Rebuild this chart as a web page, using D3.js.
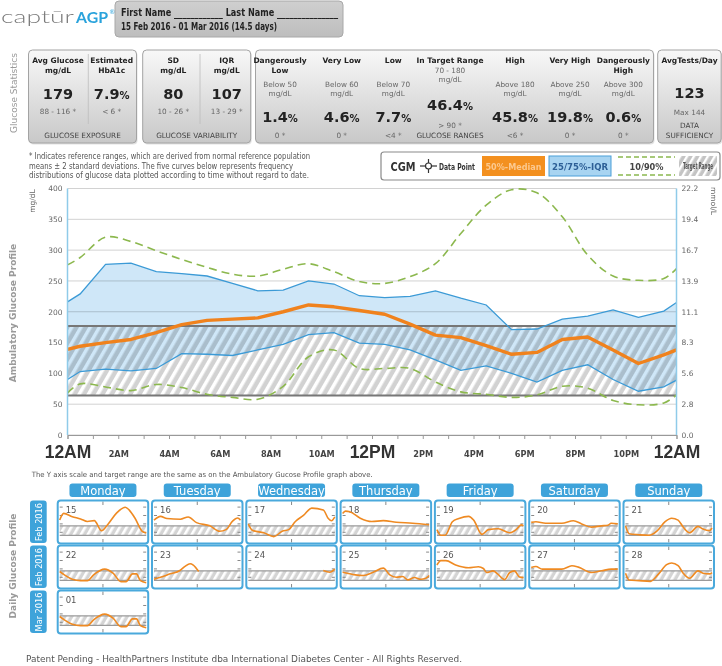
<!DOCTYPE html>
<html><head><meta charset="utf-8">
<script src="https://cdn.jsdelivr.net/npm/d3@7"></script>
<style>
body{margin:0;background:#fff;}
svg{display:block;font-family:"DejaVu Sans",sans-serif;}
</style></head><body>
<svg id="c" width="722" height="666"></svg>
<script>
// ---------------- DATA ----------------
const hours = [0,0.5,1.5,2.5,3.5,4.5,5.5,6.5,7.5,8.5,9.5,10.5,11.5,12.5,13.5,14.5,15.5,16.5,17.5,18.5,19.5,20.5,21.5,22.5,23.5,24];
const p90 = [276,288,321,314,299,285,272,261,258,269,278,265,249,246,257,278,327,373,398,393,354,292,258,251,254,270];
const p75 = [216,229,277,279,265,262,258,246,234,235,250,245,226,223,225,234,222,211,171,172,188,193,203,191,201,215];
const p50 = [139,144,150,155,166,179,186,188,190,200,211,208,202,196,180,162,158,145,131,134,155,159,138,116,130,138];
const p25 = [90,103,107,104,108,132,131,129,138,147,163,166,149,147,138,122,105,112,100,86,105,114,90,71,78,89];
const p10 = [68,83,78,72,82,77,66,61,58,79,127,138,108,108,108,86,70,66,61,65,79,76,56,49,52,65];
const targetRange = [64,177];
const yTicks = [0,50,100,150,200,250,300,350,400];
const mmolLabels = ["0.0","2.8","5.6","8.3","11.1","13.9","16.7","19.4","22.2"];
const hourLabels = ["12AM","","2AM","","4AM","","6AM","","8AM","","10AM","","12PM","","2PM","","4PM","","6PM","","8PM","","10PM","","12AM"];

const exposureHeads = [["Avg Glucose","mg/dL"],["Estimated","HbA1c"]];
const exposureValues = ["179","7.9"];
const exposureUnits = ["","%"];
const exposureRefs = ["88 - 116 *","< 6 *"];
const variabilityHeads = [["SD","mg/dL"],["IQR","mg/dL"]];
const variabilityValues = ["80","107"];
const variabilityRefs = ["10 - 26 *","13 - 29 *"];
const rangeHeads = [["Dangerously","Low"],["Very Low"],["Low"],["In Target Range"],["High"],["Very High"],["Dangerously","High"]];
const rangeLimits = [["Below 50","mg/dL"],["Below 60","mg/dL"],["Below 70","mg/dL"],["70 - 180","mg/dL"],["Above 180","mg/dL"],["Above 250","mg/dL"],["Above 300","mg/dL"]];
const rangeValues = ["1.4","4.6","7.7","46.4","45.8","19.8","0.6"];
const rangeRefs = ["0 *","0 *","<4 *","> 90 *","<6 *","0 *","0 *"];
const testsPerDay = "123";
const testsMax = "Max 144";

const weekdays = ["Monday","Tuesday","Wednesday","Thursday","Friday","Saturday","Sunday"];
const rowLabels = ["Feb 2016","Feb 2016","Mar 2016"];
const rowDays = [["15","16","17","18","19","20","21"],["22","23","24","25","26","27","28"],["01"]];

const feb15 = [[0,247],[1.1,325],[3.5,286],[5.8,259],[7.7,228],[9.6,239],[11.6,118],[13.4,197],[15.7,325],[18.2,399],[19.3,364],[20.9,267],[22.9,111],[24,91]];
const feb16 = [[0,245],[1.8,290],[3.6,264],[7.3,256],[9.5,283],[11.8,215],[15.5,177],[18.2,113],[20,132],[21.8,234],[23.2,271],[24,245]];
const feb17 = [[0,200],[1.1,124],[4.3,94],[7.1,49],[9.4,113],[11.2,132],[13,226],[15.3,301],[17.6,388],[20.8,366],[22.2,264],[23.1,237],[24,283]];
const feb18 = [[0,325],[0.8,352],[2,345],[4.9,267],[8.1,228],[11.3,239],[14.9,220],[19.4,208],[24,189]];
const feb19 = [[0,132],[1.1,64],[2.3,64],[4.3,226],[6.1,264],[8.8,290],[10.2,245],[12.5,75],[14.3,132],[17,143],[20.2,94],[22,132],[23.4,188],[24,177]];
const feb20 = [[0,218],[1.3,226],[4,207],[8.5,207],[11.7,237],[14,200],[16.7,162],[19.5,177],[21.3,185],[22.2,207],[24,200]];
const feb21 = [[0,177],[1,83],[3.7,71],[6.5,64],[8.7,113],[11,226],[12.8,267],[14.6,245],[16,162],[17.8,94],[20.1,170],[21.5,139],[23.3,120],[24,151]];
const feb22 = [[0,169],[1.3,129],[3.5,76],[5.8,60],[7.7,60],[9.4,129],[12.5,197],[14.8,149],[17,48],[18.4,48],[20.2,141],[21.3,141],[22.4,60],[24,36]];
const feb23 = [[0,76],[1.8,100],[4.5,141],[7.2,181],[8.6,230],[10,262],[10.9,246],[12.4,169]];
const feb24 = [[20.8,181],[22.6,161],[24,197]];
const feb25 = [[0,161],[1.3,149],[3.5,129],[5.8,121],[8.5,161],[11.3,209],[13.1,129],[14.9,101],[16.7,109],[18.1,69],[19.9,97],[21.7,77],[23.1,89],[24,121]];
const feb26 = [[0,246],[1.1,298],[2.5,298],[5.2,246],[8.8,213],[11.5,225],[12.9,205],[13.8,157],[15.6,177],[16.9,137],[18.8,72],[20.2,157],[21.5,177],[22.9,104],[24,96]];
const feb27 = [[0,217],[1.3,229],[3.1,197],[8.5,197],[11.3,238],[13.1,221],[16.7,157],[19.5,177],[22.2,197],[24,197]];
const feb28 = [[0,149],[1,68],[3.7,60],[6.9,52],[9.2,141],[11.4,250],[12.8,270],[14.6,238],[16,149],[17.8,88],[20.1,177],[21.5,149],[23.3,141],[24,157]];
const mar01 = [[0,169],[1.3,129],[3.5,76],[5.8,60],[7.7,60],[9.4,129],[12.5,197],[14.8,149],[17,48],[18.4,48],[20.2,141],[21.3,141],[22.4,60],[24,36]];
const dailySeries = [[feb15,feb16,feb17,feb18,feb19,feb20,feb21],[feb22,feb23,feb24,feb25,feb26,feb27,feb28],[mar01]];

// ---------------- DRAW ----------------
const svg = d3.select("#c");
const defs = svg.append("defs");
const grad = defs.append("linearGradient").attr("id","boxGrad").attr("x1",0).attr("y1",0).attr("x2",0).attr("y2",1);
grad.append("stop").attr("offset","0%").attr("stop-color","#f8f8f8");
grad.append("stop").attr("offset","100%").attr("stop-color","#c8c8c8");
const nameGrad = defs.append("linearGradient").attr("id","nameGrad").attr("x1",0).attr("y1",0).attr("x2",0).attr("y2",1);
nameGrad.append("stop").attr("offset","0%").attr("stop-color","#cfcfcf");
nameGrad.append("stop").attr("offset","100%").attr("stop-color","#bdbdbd");
function hatch(id,size,stripe,bg,fg){
  const p = defs.append("pattern").attr("id",id).attr("patternUnits","userSpaceOnUse")
    .attr("width",size).attr("height",size).attr("patternTransform","rotate(30)");
  p.append("rect").attr("width",size).attr("height",size).attr("fill",bg);
  p.append("rect").attr("width",stripe).attr("height",size).attr("fill",fg);
}
hatch("hatchMain",8,3.5,"#d2d2d2","#ffffff");
hatch("hatchSmall",6,2.6,"#d4d4d4","#ffffff");
hatch("hatchLegend",6,2.4,"#c4c4c4","#ffffff");

const NARROW = '"Liberation Sans Narrow","DejaVu Sans Condensed","Arial Narrow",sans-serif';

// Logo
svg.append("text").attr("x",1).attr("y",23).attr("font-family","Lato,'Open Sans',sans-serif").attr("font-weight",300)
  .attr("font-size",18).attr("fill","#7b7b7b").attr("textLength",73).attr("lengthAdjust","spacingAndGlyphs").text("captūr");
svg.append("text").attr("x",76).attr("y",23).attr("font-family","Lato,'Open Sans',sans-serif").attr("font-weight",700)
  .attr("font-size",16).attr("fill","#2aa3dc").attr("textLength",32).attr("lengthAdjust","spacingAndGlyphs").text("AGP");
svg.append("text").attr("x",109).attr("y",14).attr("font-size",6.5).attr("fill","#2aa3dc").text("®");

// Name box
svg.append("rect").attr("x",115).attr("y",1).attr("width",228).attr("height",36).attr("rx",4)
  .attr("fill","url(#nameGrad)").attr("stroke","#a8a8a8");
svg.append("text").attr("x",121).attr("y",15.5).attr("font-family",NARROW).attr("font-weight","bold").attr("font-size",10)
  .attr("fill","#222").attr("textLength",217).attr("lengthAdjust","spacingAndGlyphs")
  .text("First Name ____________ Last Name _______________");
svg.append("text").attr("x",121).attr("y",30).attr("font-family",NARROW).attr("font-weight","bold").attr("font-size",10)
  .attr("fill","#222").attr("textLength",156).attr("lengthAdjust","spacingAndGlyphs")
  .text("15 Feb 2016 - 01 Mar 2016  (14.5 days)");

// Side titles
function sideTitle(txt,cx,cy,bold){
  svg.append("text").attr("transform",`translate(${cx},${cy}) rotate(-90)`).attr("text-anchor","middle")
    .attr("font-size",9).attr("font-weight",bold?"bold":"normal").attr("fill","#9a9a9a").text(txt);
}
sideTitle("Glucose Statistics",17,93,false);
sideTitle("Ambulatory Glucose Profile",16,313,true);
sideTitle("Daily Glucose Profile",16,566,true);

// Stat boxes
const boxTop = 50, boxH = 93;
function box(x,w){
  svg.append("rect").attr("x",x+1).attr("y",boxTop+1.5).attr("width",w).attr("height",boxH).attr("rx",4).attr("fill","#e2e2e2");
  svg.append("rect").attr("x",x).attr("y",boxTop).attr("width",w).attr("height",boxH).attr("rx",4)
    .attr("fill","url(#boxGrad)").attr("stroke","#a3a3a3");
}
function txt(x,y,s,size,opts={}){
  return svg.append("text").attr("x",x).attr("y",y).attr("text-anchor","middle").attr("font-size",size)
    .attr("font-weight",opts.bold?"bold":"normal").attr("fill",opts.fill||"#222").text(s);
}
function bigVal(x,y,v,unit){
  const t = svg.append("text").attr("x",x).attr("y",y).attr("text-anchor","middle").attr("font-weight","bold").attr("fill","#222");
  t.append("tspan").attr("font-size",14.5).text(v);
  if(unit) t.append("tspan").attr("font-size",10).text(unit);
}
function divider(x,y1,y2){
  svg.append("line").attr("x1",x).attr("x2",x).attr("y1",y1).attr("y2",y2).attr("stroke","#bdbdbd").attr("stroke-width",0.8);
}
// Box 1
box(28.5,108);
divider(88.3,54,124);
const expX = [58,111.7];
exposureHeads.forEach((h,i)=>{ h.forEach((l,j)=>txt(expX[i],63+j*10,l,7.5,{bold:true})); });
exposureValues.forEach((v,i)=>bigVal(expX[i],98.5,v,exposureUnits[i]));
exposureRefs.forEach((v,i)=>txt(expX[i],113.5,v,7.3,{fill:"#666"}));
txt(82.5,137.5,"GLUCOSE EXPOSURE",7.3,{fill:"#444"});
// Box 2
box(142.7,108);
divider(200,54,124);
const varX = [173.3,226.7];
variabilityHeads.forEach((h,i)=>{ h.forEach((l,j)=>txt(varX[i],63+j*10,l,7.5,{bold:true})); });
variabilityValues.forEach((v,i)=>bigVal(varX[i],98.5,v,""));
variabilityRefs.forEach((v,i)=>txt(varX[i],113.5,v,7.3,{fill:"#666"}));
txt(196.7,137.5,"GLUCOSE VARIABILITY",7.3,{fill:"#444"});
// Box 3
box(255.5,398);
const rngX = [280,341.7,393.3,450,515,570,623.3];
rangeHeads.forEach((h,i)=>{ h.forEach((l,j)=>txt(rngX[i],63+j*10,l,7.5,{bold:true})); });
rangeLimits.forEach((h,i)=>{
  if(i===3){ txt(rngX[i],73,h[0],7.3,{fill:"#666"}); txt(rngX[i],81.5,h[1],7.3,{fill:"#666"}); }
  else { txt(rngX[i],86.5,h[0],7.3,{fill:"#666"}); txt(rngX[i],95.5,h[1],7.3,{fill:"#666"}); }
});
rangeValues.forEach((v,i)=>bigVal(rngX[i], i===3?110:121.5, v, "%"));
rangeRefs.forEach((v,i)=>txt(rngX[i], i===3?127.5:137.5, v, 7.3,{fill:"#666"}));
txt(450,137.5,"GLUCOSE RANGES",7.3,{fill:"#444"});
// Box 4
box(657.7,63.5);
txt(689.5,63,"AvgTests/Day",7.5,{bold:true});
bigVal(689.5,97.5,testsPerDay,"");
txt(689.5,115,testsMax,7.3,{fill:"#666"});
txt(689.5,127.5,"DATA",7.3,{fill:"#444"});
txt(689.5,137.5,"SUFFICIENCY",7.3,{fill:"#444"});

// Footnote
const foot = ["* Indicates reference ranges, which are derived from normal reference population",
  "means ± 2 standard deviations. The five curves below represents frequency",
  "distributions of glucose data plotted according to time without regard to date."];
const footLen = [281,264,280];
foot.forEach((s,i)=>svg.append("text").attr("x",29).attr("y",159+i*9.5).attr("font-family",NARROW)
  .attr("font-size",8.3).attr("fill","#555").attr("textLength",footLen[i]).attr("lengthAdjust","spacingAndGlyphs").text(s));

// Legend
const lg = svg.append("g");
function lgText(x,yy,s,size,len,fill,anchor){
  return lg.append("text").attr("x",x).attr("y",yy).attr("text-anchor",anchor||"middle").attr("font-family",NARROW)
    .attr("font-weight","bold").attr("font-size",size).attr("fill",fill)
    .attr("textLength",len).attr("lengthAdjust","spacingAndGlyphs").text(s);
}
lg.append("rect").attr("x",381).attr("y",152).attr("width",339).attr("height",28).attr("rx",3).attr("fill","#fff").attr("stroke","#8a8a8a").attr("stroke-width",1.2);
lgText(403,171,"CGM",12.5,25,"#333");
lg.append("line").attr("x1",420).attr("x2",437).attr("y1",166).attr("y2",166).attr("stroke","#333").attr("stroke-width",1.2);
lg.append("line").attr("x1",428.5).attr("x2",428.5).attr("y1",159).attr("y2",173).attr("stroke","#333").attr("stroke-width",1.2);
lg.append("circle").attr("cx",428.5).attr("cy",166).attr("r",3).attr("fill","#fff").attr("stroke","#333").attr("stroke-width",1.2);
lgText(457,169.5,"Data Point",8.5,36,"#333");
lg.append("rect").attr("x",482).attr("y",156).attr("width",63).attr("height",20).attr("fill","#f3901f");
lgText(513.5,169.5,"50%-Median",9,56,"#fcc98f");
lg.append("rect").attr("x",549).attr("y",156).attr("width",62).attr("height",20).attr("fill","#a8d4f1").attr("stroke","#4b9fd8");
lgText(580,169.5,"25/75%-IQR",9,56,"#2d5f96");
[157,175].forEach(yy=>lg.append("line").attr("x1",618).attr("x2",675).attr("y1",yy).attr("y2",yy).attr("stroke","#8bb84f").attr("stroke-width",1.5).attr("stroke-dasharray","5,3"));
lgText(646.5,169.5,"10/90%",9,34,"#444");
lg.append("rect").attr("x",679).attr("y",156).attr("width",38).attr("height",20).attr("fill","url(#hatchLegend)");
lgText(698,169,"Target Range",8,30,"#555");

// ---------- Main AGP chart ----------
const x = d3.scaleLinear().domain([0,24]).range([67.5,676.5]);
const y = d3.scaleLinear().domain([0,400]).range([435,188.5]);
const main = svg.append("g");
main.selectAll("line.grid").data(yTicks).join("line").attr("class","grid")
  .attr("x1",x(0)).attr("x2",x(24)).attr("y1",d=>y(d)).attr("y2",d=>y(d)).attr("stroke","#d2d2d2").attr("stroke-width",1);
main.append("rect").attr("x",x(0)).attr("width",x(24)-x(0)).attr("y",y(targetRange[1])).attr("height",y(targetRange[0])-y(targetRange[1]))
  .attr("fill","url(#hatchMain)");
const pts = (arr)=>hours.map((h,i)=>[h,arr[i]]);
const iqr = d3.area().x((d,i)=>x(hours[i])).y0((d,i)=>y(p25[i])).y1((d,i)=>y(p75[i]));
main.append("path").attr("d",iqr(hours)).attr("fill","#cfe7f8").style("mix-blend-mode","multiply");
targetRange.forEach(v=>main.append("line").attr("x1",x(0)).attr("x2",x(24)).attr("y1",y(v)).attr("y2",y(v)).attr("stroke","#777").attr("stroke-width",2));
const lineLin = d3.line().x(d=>x(d[0])).y(d=>y(d[1]));
const lineSm = d3.line().x(d=>x(d[0])).y(d=>y(d[1])).curve(d3.curveCatmullRom.alpha(0.5));
[p25,p75].forEach(a=>main.append("path").attr("d",lineLin(pts(a))).attr("fill","none").attr("stroke","#3b9ad6").attr("stroke-width",1.3));
[p10,p90].forEach(a=>main.append("path").attr("d",lineSm(pts(a))).attr("fill","none").attr("stroke","#8cb84e").attr("stroke-width",1.6).attr("stroke-dasharray","8,5"));
main.append("path").attr("d",lineLin(pts(p50))).attr("fill","none").attr("stroke","#f0821d").attr("stroke-width",3.4).attr("stroke-linejoin","round");
// axis lines
[0,24].forEach(h=>main.append("line").attr("x1",x(h)).attr("x2",x(h)).attr("y1",y(0)).attr("y2",y(400)).attr("stroke","#8fcbe9").attr("stroke-width",1.5));
// y axes
const yl = main.append("g").attr("transform",`translate(${x(0)},0)`).call(d3.axisLeft(y).tickValues(yTicks).tickSize(0).tickPadding(5));
const yr = main.append("g").attr("transform",`translate(${x(24)},0)`).call(d3.axisRight(y).tickValues(yTicks).tickSize(0).tickPadding(5).tickFormat((d,i)=>mmolLabels[i]));
[yl,yr].forEach(g=>{ g.select(".domain").remove(); g.selectAll("text").attr("font-size",7.5).attr("fill","#666").attr("font-family","DejaVu Sans"); });
// x axis
const xa = main.append("g").attr("transform",`translate(0,${y(0)})`).call(d3.axisBottom(x).tickValues(d3.range(0,25)).tickSize(4).tickFormat(d=>hourLabels[d]));
xa.select(".domain").attr("stroke","#999");
xa.selectAll(".tick line").attr("stroke","#999");
xa.selectAll(".tick text").attr("dy",null).attr("font-weight","bold").each(function(d){
  const big = (d%12===0);
  d3.select(this).attr("y", big?23:22).attr("font-size",big?17.5:8.2)
    .attr("font-family", big?"'Liberation Sans',Arial,sans-serif":"DejaVu Sans").attr("fill",big?"#333":"#444");
});
// units
main.append("text").attr("transform",`translate(35,201) rotate(-90)`).attr("text-anchor","middle").attr("font-size",7.5).attr("fill","#666").text("mg/dL");
main.append("text").attr("transform",`translate(711,201) rotate(90)`).attr("text-anchor","middle").attr("font-size",7.5).attr("fill","#666").text("mmol/L");

// subtitle
svg.append("text").attr("x",31.7).attr("y",477).attr("font-size",7.2).attr("fill","#555").attr("textLength",341).attr("lengthAdjust","spacingAndGlyphs")
  .text("The Y axis scale and target range are the same as on the Ambulatory Gucose Profile graph above.");

// ---------- Daily panels ----------
const colX0 = 57.7, colStep = 94.3, panelW = 90.5, rowY0 = 500.5, rowStep = 45, panelH = 43;
const BLUE = "#3ea3da";
weekdays.forEach((d,i)=>{
  const cx = colX0 + i*colStep + panelW/2;
  svg.append("rect").attr("x",cx-33.5).attr("y",483.5).attr("width",67).attr("height",13.5).attr("rx",3).attr("fill",BLUE);
  svg.append("text").attr("x",cx).attr("y",494.8).attr("text-anchor","middle").attr("font-size",11.5).attr("fill","#fff").text(d);
});
const dayLine = d3.line().curve(d3.curveMonotoneX);
rowDays.forEach((days,r)=>{
  const top = rowY0 + r*rowStep;
  svg.append("rect").attr("x",30).attr("y",top).attr("width",16.7).attr("height",panelH-0.5).attr("rx",3).attr("fill",BLUE);
  svg.append("text").attr("transform",`translate(41.5,${top+panelH/2}) rotate(-90)`).attr("text-anchor","middle")
    .attr("font-size",8.2).attr("fill","#fff").text(rowLabels[r]);
  days.forEach((day,c)=>{
    const left = colX0 + c*colStep;
    const xp = d3.scaleLinear().domain([0,24]).range([left+2,left+panelW-2]);
    const yp = d3.scaleLinear().domain([0,400]).range([top+40.2,top+6.6]);
    const g = svg.append("g");
    const cid = `clip${r}_${c}`;
    defs.append("clipPath").attr("id",cid).append("rect").attr("x",left+1).attr("y",top+1).attr("width",panelW-2).attr("height",panelH-2);
    g.append("rect").attr("x",left).attr("y",top).attr("width",panelW).attr("height",panelH).attr("rx",3).attr("fill","#fff");
    g.append("rect").attr("x",xp(0)).attr("width",xp(24)-xp(0)).attr("y",yp(targetRange[1])).attr("height",yp(targetRange[0])-yp(targetRange[1])).attr("fill","url(#hatchSmall)");
    targetRange.forEach(v=>g.append("line").attr("x1",xp(0)).attr("x2",xp(24)).attr("y1",yp(v)).attr("y2",yp(v)).attr("stroke","#9a9a9a").attr("stroke-width",1.3));
    [100,200,300,400].forEach(v=>{
      g.append("line").attr("x1",xp(0)).attr("x2",xp(0)+3).attr("y1",yp(v)).attr("y2",yp(v)).attr("stroke","#888");
      g.append("line").attr("x1",xp(24)-3).attr("x2",xp(24)).attr("y1",yp(v)).attr("y2",yp(v)).attr("stroke","#888");
    });
    g.append("line").attr("x1",xp(12)).attr("x2",xp(12)).attr("y1",top+1).attr("y2",top+4.5).attr("stroke","#888");
    g.append("line").attr("x1",xp(12)).attr("x2",xp(12)).attr("y1",top+panelH-4.5).attr("y2",top+panelH-1).attr("stroke","#888");
    g.append("text").attr("x",left+8).attr("y",top+12.5).attr("font-size",8.5).attr("fill","#555").text(day);
    const series = dailySeries[r][c];
    g.append("path").attr("clip-path",`url(#${cid})`).attr("d",dayLine(series.map(p=>[xp(p[0]),yp(p[1])])))
      .attr("fill","none").attr("stroke","#ef8a22").attr("stroke-width",1.6);
    g.append("rect").attr("x",left).attr("y",top).attr("width",panelW).attr("height",panelH).attr("rx",3)
      .attr("fill","none").attr("stroke","#4aa9dc").attr("stroke-width",2);
  });
});

// footer
svg.append("text").attr("x",26).attr("y",662).attr("font-size",8.7).attr("fill","#555").attr("textLength",436).attr("lengthAdjust","spacingAndGlyphs")
  .text("Patent Pending -  HealthPartners Institute dba International Diabetes Center - All Rights Reserved.");
</script>
</body></html>
